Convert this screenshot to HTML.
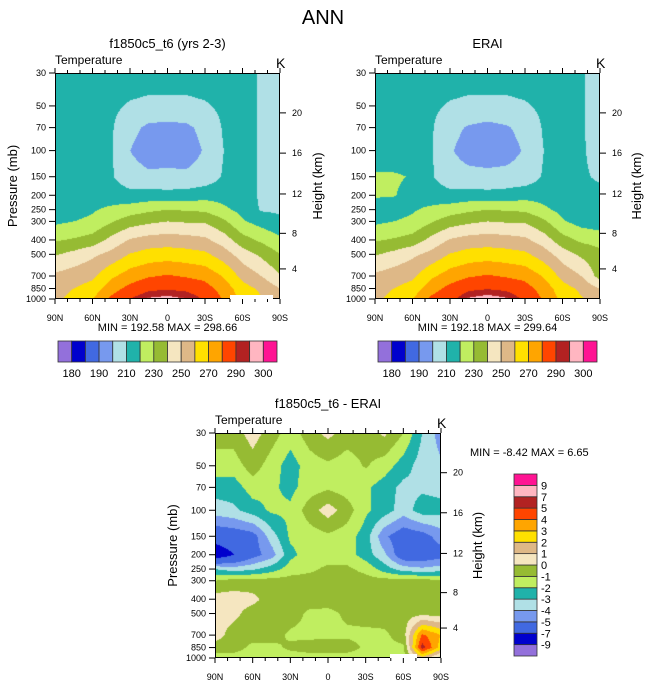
<!DOCTYPE html>
<html><head><meta charset="utf-8">
<style>
body{margin:0;background:#fff;width:647px;height:683px;overflow:hidden;position:relative;font-family:"Liberation Sans",sans-serif}
canvas{position:absolute}
svg{position:absolute;left:0;top:0}
</style></head><body>
<canvas id="c1" width="225" height="226" style="left:55px;top:73px"></canvas>
<canvas id="c2" width="225" height="226" style="left:375px;top:73px"></canvas>
<canvas id="c3" width="226" height="225" style="left:215px;top:433px"></canvas>
<svg id="ov" width="647" height="683"></svg>
<script>
const lats=[90,75,60,45,30,15,0,-15,-30,-45,-60,-75,-90];
const pLevels=[30,50,70,100,150,200,250,300,400,500,700,850,1000];
const modelT=[
[215,215,216,215,215,214,214,214,215,215,215,208.5,207.5],
[215,215,216,212,209,208,208,208,209,212,215,208.5,208],
[215,215,216,211,203,198,197,198,203,211,215,208.5,208],
[215,215,216,211,200,195,194,195,201,210,215,208.5,208],
[215,215,216,211,204,202,203,202,204,211,215,208.5,208],
[215,215,216,215,213,214,213,214,216,216,215,208.5,208],
[215,216,219,222,225,228,230,229,228,222,217,209,208.5],
[218,220,222,229,235,238,240,239,239,232,221,216,212],
[229,231,234,243,251,254,255,254,252,245,234,228,222],
[239,243,248,253,260.5,264,265,264,262,255,245,238,230],
[252,255,258,268,275,279,281,279,277,269,257,250,241],
[255,260,264,276,283,288,289,288,284,276,264,258,250],
[257,264,270,282,290,296,297.5,295,289,279,267,261,253]];
const eraiT=[
[215,215,216,215,215,214,214,214,215,215,215,210.5,208],
[215,215,216,212,209,208,208,208,209,212,215,210.5,208],
[215,215,216,211,203,199,197,199,203,211,215,210.5,208],
[215,215,216,211,201,196,194,196,201,210,215,210.5,208.5],
[221,221,219.5,211,204,203,203,203,204,211,215,210.5,209.5],
[221,220.5,217,215,213,214,213,214,216,216,215,211,211],
[215,216,219,222,225,228,230,229,228,222,217,212,212],
[218,220,222,229,235,238,240,239,239,232,221,216,214],
[229,231,234,243,251,254,255,254,252,245,234,228,226],
[239,243,248,253,260.5,264,265,264,262,255,245,238,233],
[252,255,258,268,275,279,281,279,277,269,257,250,236],
[255,260,264,276,283,288,289.5,288,284,276,264,258,250],
[257,264,270,282,287,296,298.5,296,288,279,267,261,256]];
const diffT=[
[-0.5,-0.5,0.5,-0.5,-1.5,-0.5,0.3,-0.5,-0.5,0.2,-1,-3,-4.5],
[-1.5,-1.5,-0.5,-1.5,-2.5,-1.5,-1.2,-1.5,-0.9,-1.5,-2.5,-3.5,-3.8],
[-2.5,-2.5,-1.5,-1.8,-2.3,-1.5,-1.2,-1.5,-1.8,-2.5,-3.3,-3.2,-3.3],
[-3.5,-3.2,-2.5,-1.8,-1.8,-0.5,0.5,-0.5,-1.8,-2.5,-3.5,-2.5,-2.7],
[-6,-5.8,-5.5,-3.5,-1.8,-1.5,-1.2,-1.5,-2.5,-4.8,-5.8,-5.5,-4.5],
[-8.4,-7,-5.5,-4.5,-2.3,-1.5,-1.5,-1.5,-2.5,-3.8,-6,-6,-5.5],
[-3,-3.5,-3.2,-2.5,-1.5,-1.2,-0.8,-0.8,-1.3,-2.5,-3.5,-3.8,-3.5],
[-1,-0.6,-0.6,-0.6,-0.6,-0.6,-0.6,-0.6,-0.6,-0.6,-0.6,-0.6,-0.8],
[0.5,0.5,0.3,-0.5,-0.5,-0.5,-0.5,-0.5,-0.5,-0.5,-0.5,-0.5,-0.5],
[0.5,0.3,-0.5,-0.5,-0.5,-1.2,-1.3,-0.8,-0.5,-0.5,-0.5,-0.3,-0.5],
[0.5,-0.5,-0.5,-0.5,-1.2,-1.3,-1.2,-1.2,-1.3,-1.2,-0.5,4.2,3],
[-0.5,-0.5,-1.3,-1.3,-0.8,-0.5,-0.5,-0.5,-1.2,-1.2,-1.2,5.5,2.5],
[-1.5,-1.5,-1.5,-1.5,-1.5,-1.5,-1.5,-1.5,-1.5,-1.5,-1.5,1.5,-0.5]];
const tLevels=[180,185,190,200,210,220,230,240,250,260,270,280,290,295,300];
const tLabels=["180","190","210","230","250","270","290","300"];
const dLevels=[-9,-7,-5,-4,-3,-2,-1,0,1,2,3,4,5,7,9];
const dLabels=["-9","-7","-5","-4","-3","-2","-1","0","1","2","3","4","5","7","9"];
const colors=["#9370db","#0000cd","#4169e1","#7799ee","#b0e0e6","#20b2aa","#c0ee60","#96bb33","#f5e6c0","#deb887","#ffe000","#ffa500","#ff4500","#b22222","#ffb6c1","#ff1493"];
const pTicks=[30,50,70,100,150,200,250,300,400,500,700,850,1000];
const latTicks=[90,60,30,0,-30,-60,-90];
const latTickLabels=["90N","60N","30N","0","30S","60S","90S"];
const hTicks=[20,16,12,8,4];
const hTickP=[55.7,104,196,361,627];

const LP0=Math.log10(30),LP1=Math.log10(1000);
function yOf(p,top,h){return top+(Math.log10(p)-LP0)/(LP1-LP0)*h;}
function xOf(lat,left,w){return left+(90-lat)/180*w;}
function hexRGB(h){return [parseInt(h.substr(1,2),16),parseInt(h.substr(3,2),16),parseInt(h.substr(5,2),16)];}
const rgb=colors.map(hexRGB);
function sample(grid,lat,p){
  let fi=(90-lat)/15; let i0=Math.min(11,Math.floor(fi)); let fx=fi-i0;
  const lp=Math.log10(p); let j0=0;
  while(j0<pLevels.length-2 && Math.log10(pLevels[j0+1])<lp) j0++;
  const a=Math.log10(pLevels[j0]),b=Math.log10(pLevels[j0+1]);
  let fy=Math.max(0,Math.min(1,(lp-a)/(b-a)));
  const v00=grid[j0][i0],v01=grid[j0][i0+1],v10=grid[j0+1][i0],v11=grid[j0+1][i0+1];
  return (v00*(1-fx)+v01*fx)*(1-fy)+(v10*(1-fx)+v11*fx)*fy;
}
function drawField(id,grid,levels){
  const c=document.getElementById(id),ctx=c.getContext('2d');
  const w=c.width,h=c.height,img=ctx.createImageData(w,h);
  for(let py=0;py<h;py++){
    const p=Math.pow(10,LP0+(py+0.5)/h*(LP1-LP0));
    for(let px=0;px<w;px++){
      const lat=90-(px+0.5)/w*180;
      const v=sample(grid,lat,p);
      let k=0; while(k<levels.length && v>=levels[k]) k++;
      const col=rgb[k],o=(py*w+px)*4;
      img.data[o]=col[0];img.data[o+1]=col[1];img.data[o+2]=col[2];img.data[o+3]=255;
    }
  }
  ctx.putImageData(img,0,0);
}
drawField('c1',modelT,tLevels);
drawField('c2',eraiT,tLevels);
drawField('c3',diffT,dLevels);

const svg=document.getElementById('ov');
const NS="http://www.w3.org/2000/svg";
function mk(tag,attrs,parent){const e=document.createElementNS(NS,tag);for(const k in attrs)e.setAttribute(k,attrs[k]);(parent||svg).appendChild(e);return e;}
function txt(s,x,y,size,anchor,extra){const t=mk('text',Object.assign({x:x,y:y,'font-size':size,'text-anchor':anchor||'start',fill:'#000'},extra||{}));t.textContent=s;return t;}

function panel(name,left,top,w,h,title,minmax,pLabelX,hLabelX){
  const g=mk('g',{});
  
  
  const t=txt(title,left+w/2,top-25,13,'middle');
  
  
  const tt=txt('Temperature',left,top-9,12,'start');
  
  
  const tk=txt('K',left+w-4,top-5,14,'start');
  
  
  mk('rect',{x:left+0.5,y:top+0.5,width:w-1,height:h-1,fill:'none',stroke:'#000','stroke-width':1},g);
  for(let lat=90;lat>=-90;lat-=10){
    const x=xOf(lat,left,w), major=(lat%30===0);
    mk('line',{x1:x,y1:top,x2:x,y2:top-(major?5:3),stroke:'#000','stroke-width':1},g);
    mk('line',{x1:x,y1:top+h,x2:x,y2:top+h+(major?5:3),stroke:'#000','stroke-width':1},g);
  }
  latTicks.forEach((lat,i)=>{
    const l=txt(latTickLabels[i],xOf(lat,left,w),top+h+22,9,'middle');
    
    
  });
  pTicks.forEach(p=>{
    const y=yOf(p,top,h);
    mk('line',{x1:left,y1:y,x2:left-6,y2:y,stroke:'#000','stroke-width':1},g);
    const l=txt(String(p),left-9,y+3,9,'end');
    
    
  });
  hTicks.forEach((z,i)=>{
    const y=yOf(hTickP[i],top,h);
    mk('line',{x1:left+w,y1:y,x2:left+w+6,y2:y,stroke:'#000','stroke-width':1},g);
    const l=txt(String(z),left+w+12,y+3,9,'start');
    
    
  });
  const py=top+h/2;
  if(pLabelX!==null){
    const pl=txt('Pressure (mb)',pLabelX,py,13,'middle',{transform:'rotate(-90 '+pLabelX+' '+py+')'});
    
    
  }
  const hl=txt('Height (km)',hLabelX,py,13,'middle',{transform:'rotate(-90 '+hLabelX+' '+py+')'});
  
  
  if(minmax){
    const m=txt(minmax,left+w/2,top+h+32,11,'middle',{'xml:space':'preserve'});
    
    
  }
}
const tt=txt('ANN',323,24,20,'middle');



panel('model-panel',55,73,225,226,'f1850c5_t6 (yrs 2-3)','MIN = 192.58  MAX = 298.66',17,322);
panel('erai-panel',375,73,225,226,'ERAI','MIN = 192.18  MAX = 299.64',null,641);
panel('diff-panel',215,433,226,225,'f1850c5_t6 - ERAI',null,177,482);
mk('rect',{x:230,y:295,width:43,height:4,fill:'#fff'});
mk('rect',{x:390,y:654,width:27,height:4,fill:'#fff'});
const mm=txt('MIN =  -8.42  MAX =   6.65',470,456,11,'start',{'xml:space':'preserve'});



function hbar(name,left,top,w,h){
  const n=colors.length,bw=w/n;
  colors.forEach((c,i)=>{
    const r=mk('rect',{x:left+i*bw,y:top,width:bw,height:h,fill:c,stroke:'#333','stroke-width':0.8});
    
    
  });
  tLabels.forEach((s,i)=>{
    const l=txt(s,left+(1+2*i)*bw,top+h+15,11,'middle');
    
    
  });
}
hbar('model-colorbar',58,341,219,21);
hbar('erai-colorbar',378,341,219,21);
(function(){
  const left=514,top=474,w=23,h=182,n=colors.length,bh=h/n;
  colors.forEach((c,i)=>{
    const r=mk('rect',{x:left,y:top+(n-1-i)*bh,width:w,height:bh,fill:c,stroke:'#333','stroke-width':0.8});
    
    
  });
  dLabels.forEach((s,i)=>{
    const l=txt(s,left+w+4,top+(n-1-i)*bh+4,11,'start');
    
    
  });
})();
</script>
</body></html>
